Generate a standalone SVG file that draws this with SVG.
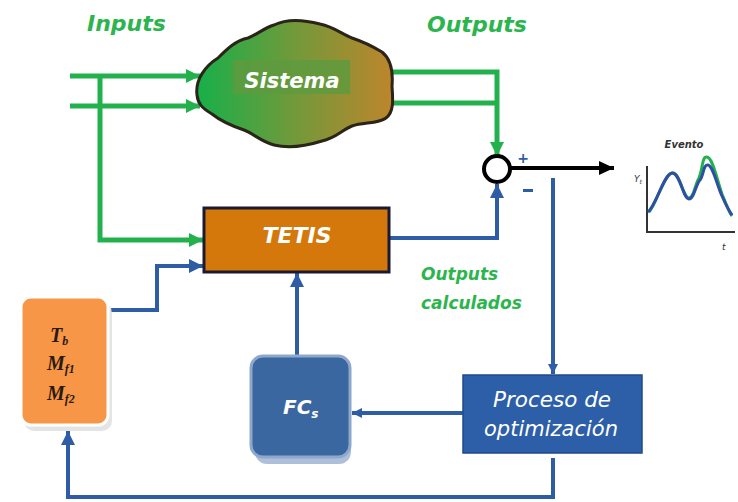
<svg xmlns="http://www.w3.org/2000/svg" width="738" height="502" viewBox="0 0 738 502">
  <style>
    .lbl { font-family: "DejaVu Sans", "Liberation Sans", sans-serif; font-style: italic; font-weight: bold; }
    .green-txt { fill: #2cb54e; }
    .white-txt { fill: #ffffff; }
    .g-line { fill: none; stroke: #22b14c; stroke-width: 5; }
    .b-line { fill: none; stroke: #2e5ca5; stroke-width: 4; }
    .k-line { fill: none; stroke: #000000; stroke-width: 4; }
    .param { font-family: "Liberation Serif", serif; font-style: italic; font-weight: bold; font-size: 20px; fill: #2a1a10; }
  </style>
  <defs>
    <marker id="arrG" markerUnits="userSpaceOnUse" markerWidth="16" markerHeight="16" refX="14" refY="8" orient="auto">
      <path d="M0,1 L14,8 L0,15 Z" fill="#22b14c"/>
    </marker>
    <marker id="arrB" markerUnits="userSpaceOnUse" markerWidth="16" markerHeight="16" refX="14" refY="8" orient="auto">
      <path d="M0,1 L14,8 L0,15 Z" fill="#2e5ca5"/>
    </marker>
    <marker id="arrBs" markerUnits="userSpaceOnUse" markerWidth="12" markerHeight="12" refX="10" refY="6" orient="auto">
      <path d="M0,1 L10,6 L0,11 Z" fill="#2e5ca5"/>
    </marker>
    <marker id="arrK" markerUnits="userSpaceOnUse" markerWidth="18" markerHeight="18" refX="15" refY="9" orient="auto">
      <path d="M0,2 L15,9 L0,16 Z" fill="#000000"/>
    </marker>
    <linearGradient id="cloudGrad" x1="0" y1="0" x2="1" y2="0">
      <stop offset="0" stop-color="#16b04a"/>
      <stop offset="0.5" stop-color="#72993a"/>
      <stop offset="1" stop-color="#bd852c"/>
    </linearGradient>
  </defs>

  <!-- titles -->
  <text class="lbl green-txt" x="87" y="31" font-size="22">Inputs</text>
  <text class="lbl green-txt" x="427" y="32" font-size="22">Outputs</text>

  <!-- connectors -->
  <g id="connectors">
    <!-- inputs -->
    <path class="g-line" d="M70,76 H200" marker-end="url(#arrG)"/>
    <path class="g-line" d="M70,106 H200" marker-end="url(#arrG)"/>
    <path class="g-line" d="M100,76 V240 H203" marker-end="url(#arrG)"/>
    <!-- observed outputs -->
    <path class="g-line" d="M388,72 H497 V156" marker-end="url(#arrG)"/>
    <path class="g-line" d="M390,103 H497"/>
    <!-- calculated outputs -->
    <path class="b-line" d="M390,238 H497 V184" marker-end="url(#arrB)"/>
    <!-- comparison result -->
    <path class="k-line" d="M511,168 H614" marker-end="url(#arrK)"/>
    <path class="b-line" d="M553,178 V374" stroke-width="3" marker-end="url(#arrBs)"/>
    <!-- optimisation to FCs -->
    <path class="b-line" d="M463,413 H352" stroke-width="3" marker-end="url(#arrBs)"/>
    <!-- FCs to TETIS -->
    <path class="b-line" d="M297,355 V273" marker-end="url(#arrB)"/>
    <!-- parameters to TETIS -->
    <path class="b-line" d="M111,310 H157 V266 H203" marker-end="url(#arrB)"/>
    <!-- feedback loop -->
    <path class="b-line" d="M553,458 V497 H68 V431" marker-end="url(#arrB)"/>
  </g>

  <!-- comparator -->
  <g id="comparator">
    <circle cx="497" cy="169" r="13" fill="#ffffff" stroke="#000000" stroke-width="4"/>
    <text x="523" y="163" font-family="DejaVu Sans, sans-serif" font-weight="bold" font-size="14" fill="#2e5ca5" text-anchor="middle">+</text>
    <rect x="523" y="189" width="10" height="3" fill="#2e5ca5"/>
  </g>

  <!-- system cloud -->
  <g id="sistema">
    <path d="M197,95 C195,80 205,66 218,58 C226,50 236,40 248,38 C258,34 264,28 274,25 C288,18 305,20 320,24 C334,27 342,34 352,38 C364,42 372,46 382,52 C392,60 393,74 392,86 C393,100 394,112 386,118 C378,124 364,122 352,126 C342,130 336,138 322,141 C306,146 290,149 274,145 C262,142 254,134 244,130 C232,126 222,122 212,114 C202,108 198,104 197,95 Z" fill="url(#cloudGrad)" stroke="#2b2418" stroke-width="3"/>
    <rect x="233" y="60" width="117" height="34" fill="#5f9a3e" opacity="0.85"/>
    <text class="lbl white-txt" x="292" y="88" font-size="21" text-anchor="middle">Sistema</text>
  </g>

  <!-- TETIS model -->
  <g id="tetis">
    <rect x="204" y="208" width="185" height="64" fill="#d4780c" stroke="#1b1a33" stroke-width="3"/>
    <text class="lbl white-txt" x="297" y="243" font-size="22" text-anchor="middle">TETIS</text>
  </g>

  <!-- calculated outputs label -->
  <g id="outputs-calculados">
    <text class="lbl green-txt" x="421" y="280" font-size="17">Outputs</text>
    <text class="lbl green-txt" x="421" y="309" font-size="17">calculados</text>
  </g>

  <!-- parameters -->
  <g id="parametros">
    <rect x="24" y="302" width="88" height="129" rx="10" fill="#d8d8d8" opacity="0.7"/>
    <rect x="21" y="297" width="87" height="128" rx="10" fill="#f79646" stroke="#ffffff" stroke-width="3"/>
    <text class="param" x="50" y="342">T<tspan font-size="12" dy="3">b</tspan></text>
    <text class="param" x="47" y="370">M<tspan font-size="12" dy="3">f1</tspan></text>
    <text class="param" x="47" y="400">M<tspan font-size="12" dy="3">f2</tspan></text>
  </g>

  <!-- FCs -->
  <g id="fcs">
    <rect x="255" y="364" width="96" height="100" rx="12" fill="#9ab0cf" opacity="0.8"/>
    <rect x="251" y="356" width="99" height="101" rx="12" fill="#3a67a0" stroke="#8ea8cc" stroke-width="3"/>
    <text class="lbl white-txt" x="283" y="414" font-size="20">FC<tspan font-size="12" dy="4">s</tspan></text>
  </g>

  <!-- optimisation -->
  <g id="proceso">
    <rect x="463" y="375" width="179" height="78" fill="#2d5ea8" stroke="#1f4a8c" stroke-width="1.5"/>
    <text x="552" y="407" font-family="DejaVu Sans, sans-serif" font-style="italic" font-size="21.5" fill="#ffffff" text-anchor="middle">Proceso de</text>
    <text x="551" y="436" font-family="DejaVu Sans, sans-serif" font-style="italic" font-size="21" fill="#ffffff" text-anchor="middle">optimización</text>
  </g>

  <!-- event hydrograph -->
  <g id="evento">
    <text x="684" y="148" font-family="DejaVu Sans, sans-serif" font-style="italic" font-weight="bold" font-size="10" fill="#333333" text-anchor="middle">Evento</text>
    <path d="M647,166 V232 H735" fill="none" stroke="#333333" stroke-width="2"/>
    <text x="634" y="182" font-family="DejaVu Sans, sans-serif" font-style="italic" font-size="9" fill="#333333">Y<tspan font-size="6" dy="2">t</tspan></text>
    <text x="722" y="250" font-family="DejaVu Sans, sans-serif" font-style="italic" font-size="9" fill="#333333">t</text>
    <path d="M649,212 C656,205 664,174 672,173 C680,172 683,198 689,198 C694,198 695,184 699,178 C703,168 702,156 707,157 C713,158 717,180 722,194 C726,204 729,212 732,216" fill="none" stroke="#22b14c" stroke-width="3"/>
    <path d="M648,212 C656,206 664,174 672,173 C680,172 683,199 689,199 C694,199 696,184 700,180 C704,175 703,164 708,165 C713,166 717,185 722,196 C726,205 729,211 732,215" fill="none" stroke="#2e4fa5" stroke-width="3"/>
  </g>
</svg>
